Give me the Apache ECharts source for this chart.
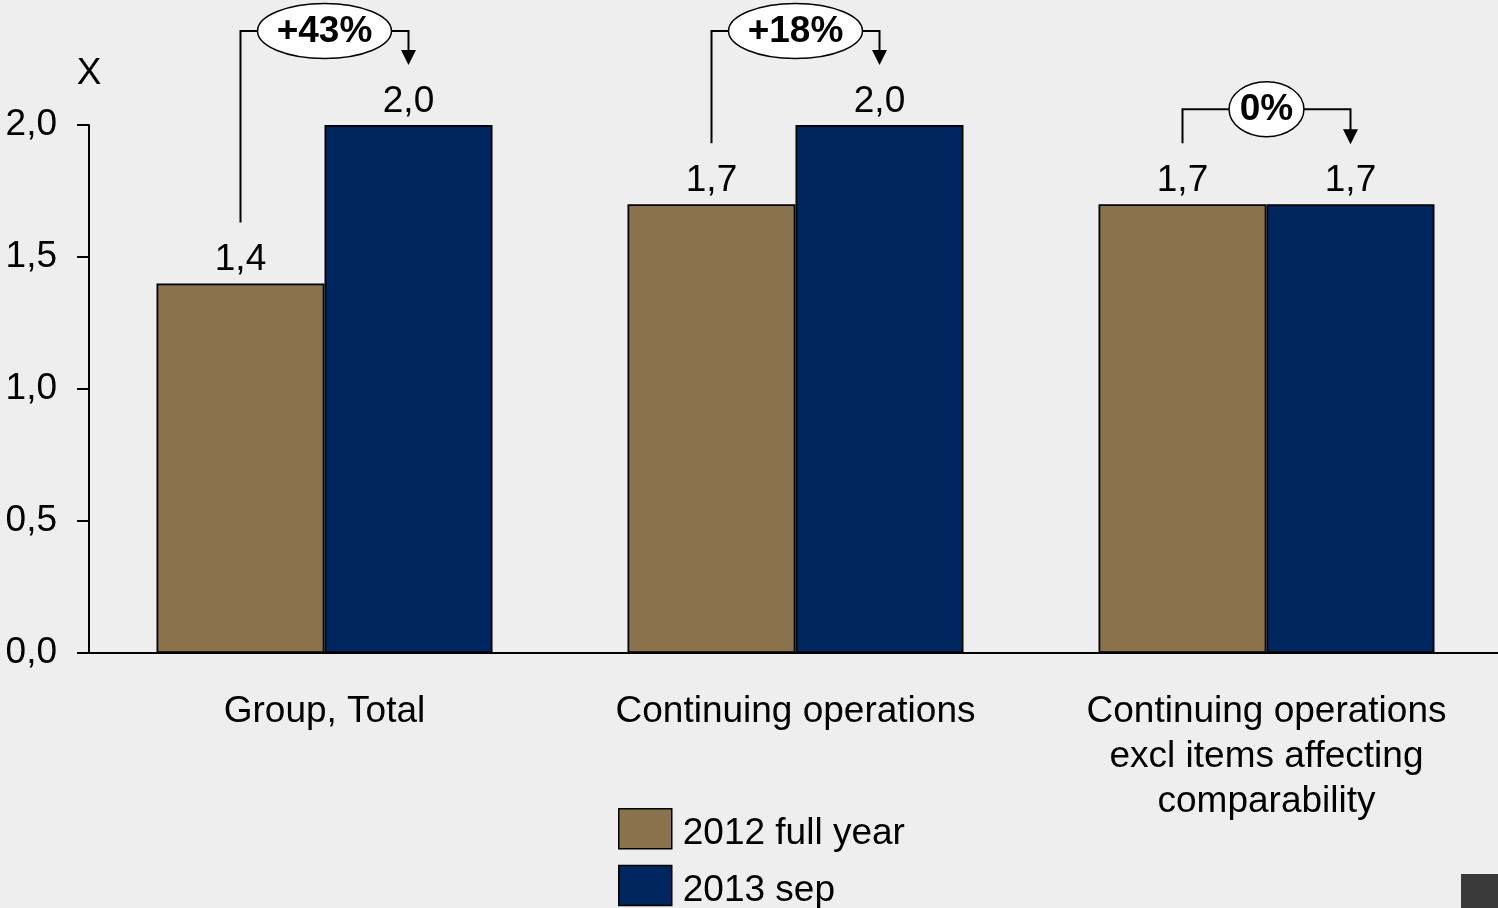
<!DOCTYPE html>
<html>
<head>
<meta charset="utf-8">
<script src="https://cdn.jsdelivr.net/npm/echarts@6/dist/echarts.min.js"></script>
<style>
  html, body { margin: 0; padding: 0; background: #eeeeee; overflow: hidden; }
  #chart { width: 1502px; height: 908px; }
</style>
</head>
<body>
<div id="chart"></div>
<script>
// Categories, series values and change labels
const categories = ['Group, Total', 'Continuing operations', 'Continuing operations\nexcl items affecting\ncomparability'];
const fullYear2012 = [1.4, 1.7, 1.7];
const sep2013 = [2.0, 2.0, 1.7];
const changeLabels = ['+43%', '+18%', '0%'];
const seriesNames = ['2012 full year', '2013 sep'];
const yMin = 0, yMax = 2, yStep = 0.5;

const FONT = '"Liberation Sans", Arial, sans-serif';
const BROWN = '#8a724c';
const NAVY = '#00265f';
const BAR_W = 168;

const fmt = v => v.toFixed(1).replace('.', ',');

const chart = echarts.init(document.getElementById('chart'), null, { renderer: 'canvas' });

const barLabel = {
  show: true, position: 'top', distance: 5,
  fontSize: 37, fontFamily: FONT, color: '#000',
  formatter: p => fmt(p.value)
};

chart.setOption({
  backgroundColor: '#eeeeee',
  animation: false,
  textStyle: { fontFamily: FONT },
  grid: { left: 89, right: 0, top: 125, bottom: 255 },
  legend: {
    orient: 'vertical', left: 618, top: 808, height: 200, padding: 0, itemGap: 12,
    itemWidth: 53, itemHeight: 40, icon: 'rect',
    itemStyle: { borderColor: '#000', borderWidth: 1.5 },
    formatter: name => '{t|' + name + '}',
    textStyle: {
      fontSize: 37, fontFamily: FONT, color: '#000',
      rich: { t: { fontSize: 37, fontFamily: FONT, color: '#000', padding: [11, 0, 0, 6] } }
    },
    data: seriesNames
  },
  xAxis: {
    type: 'category', data: categories,
    axisLine: { lineStyle: { color: '#000', width: 2 } },
    axisTick: { show: false },
    axisLabel: { fontSize: 37, fontFamily: FONT, color: '#000', margin: 36, lineHeight: 45, interval: 0 }
  },
  yAxis: {
    type: 'value', min: yMin, max: yMax, interval: yStep,
    name: 'X', nameLocation: 'end', nameGap: 33,
    nameTextStyle: { fontSize: 37, fontFamily: FONT, color: '#000', align: 'center' },
    axisLine: { show: true, lineStyle: { color: '#000', width: 2 } },
    axisTick: { show: true, length: 12, lineStyle: { color: '#000', width: 2 } },
    axisLabel: { fontSize: 37, fontFamily: FONT, color: '#000', margin: 32, padding: [4, 0, 0, 0], formatter: v => fmt(v) },
    splitLine: { show: false }
  },
  series: [
    {
      name: seriesNames[0], type: 'bar', data: fullYear2012, barWidth: BAR_W, barGap: '0%',
      itemStyle: { color: BROWN, borderColor: '#000', borderWidth: 1.8 },
      label: barLabel
    },
    {
      name: seriesNames[1], type: 'bar', data: sep2013, barWidth: BAR_W, barGap: '0%',
      itemStyle: { color: NAVY, borderColor: '#000', borderWidth: 1.8 },
      label: barLabel
    }
  ]
});

// Change brackets: line from the first bar's label, over an ellipse badge, down to an arrow on the second bar
const ctx = document.createElement('canvas').getContext('2d');
ctx.font = 'bold 37px ' + FONT;

const graphics = [];
categories.forEach((c, i) => {
  const center = chart.convertToPixel({ xAxisIndex: 0 }, i);
  const x1 = center - BAR_W / 2;
  const x2 = center + BAR_W / 2;
  const y1 = chart.convertToPixel({ yAxisIndex: 0 }, fullYear2012[i]) - 61;
  const y2 = chart.convertToPixel({ yAxisIndex: 0 }, sep2013[i]) - 60;
  const top = Math.min(y1, y2) - 34;
  const rx = ctx.measureText(changeLabels[i]).width * 0.7;
  const ry = 27.5;
  const line = { stroke: '#000', lineWidth: 2, fill: null };
  graphics.push({
    type: 'polyline', z: 100, silent: true,
    shape: { points: [[x1, y1], [x1, top], [center - rx, top]] }, style: line
  });
  graphics.push({
    type: 'polyline', z: 100, silent: true,
    shape: { points: [[center + rx, top], [x2, top], [x2, y2 - 14]] }, style: line
  });
  graphics.push({
    type: 'polygon', z: 100, silent: true,
    shape: { points: [[x2 - 7.5, y2 - 15], [x2 + 7.5, y2 - 15], [x2, y2]] },
    style: { fill: '#000' }
  });
  graphics.push({
    type: 'ellipse', z: 101, silent: true,
    shape: { cx: center, cy: top, rx: rx, ry: ry },
    style: { fill: '#fff', stroke: '#000', lineWidth: 1.5 }
  });
  graphics.push({
    type: 'text', z: 102, silent: true,
    style: {
      text: changeLabels[i], x: center, y: top + 1, align: 'center', verticalAlign: 'middle',
      fontSize: 37, fontWeight: 'bold', fontFamily: FONT, fill: '#000'
    }
  });
});

// Corner block at bottom right of the visible page
graphics.push({
  type: 'rect', silent: true, left: 1461, bottom: 0,
  shape: { width: 41, height: 34 }, style: { fill: '#3a3a3a' }
});

chart.setOption({ graphic: graphics });
</script>
</body>
</html>
